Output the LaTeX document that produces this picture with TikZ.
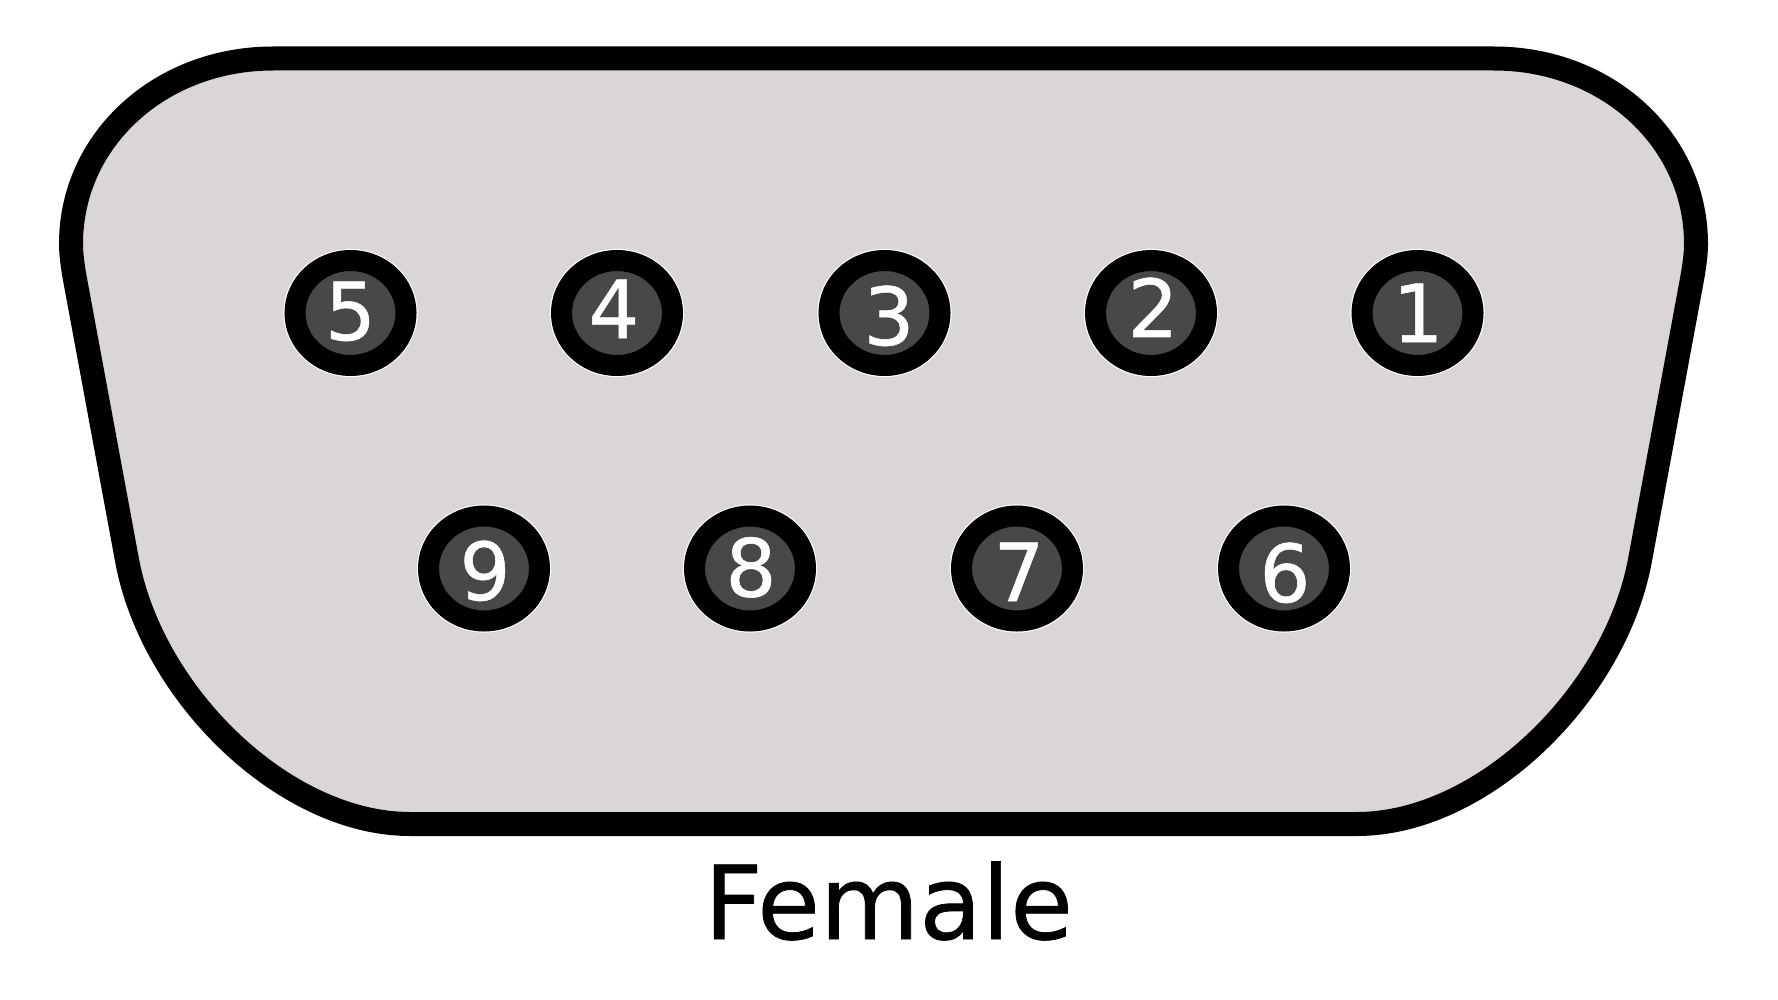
\documentclass[tikz,border=0pt]{standalone}
\usepackage{fontspec}
\setmainfont{DejaVu Sans}
\newfontfamily\pinface{DejaVu Sans}[FakeBold=0.7]
\usetikzlibrary{shapes.geometric}
\definecolor{shellfill}{HTML}{DBD6D6}
\definecolor{holefill}{HTML}{484848}
\tikzset{
  shell/.style={draw=black,fill=shellfill,line width=24pt,line join=round},
  hole/.style={ellipse,draw=black,fill=holefill,line width=21pt,minimum width=111pt,minimum height=105pt,inner sep=0pt,outer sep=0pt},
  halo/.style={ellipse,draw=white,line width=1.2pt,minimum width=133pt,minimum height=127pt,inner sep=0pt,outer sep=0pt},
  pinnum/.style={text=white,font=\pinface\fontsize{80pt}{80pt}\selectfont,anchor=base,inner sep=0pt},
  caption/.style={text=black,font=\pinface\fontsize{102pt}{102pt}\selectfont,anchor=base,inner sep=0pt}
}
\begin{document}
\begin{tikzpicture}[x=1pt,y=-1pt]
\useasboundingbox (0,0) rectangle (1778,1000);
\fill[white] (0,0) rectangle (1778,1000);
\draw[shell]
  (273,58.5) -- (1494,58.5)
  .. controls (1607,58.5) and (1696,140) .. (1696,244)
  .. controls (1696,258) and (1693,274) .. (1690,290)
  -- (1640,560)
  .. controls (1615,695) and (1482,824) .. (1357,824)
  -- (410,824)
  .. controls (285,824) and (152,695) .. (127,560)
  -- (77,290)
  .. controls (74,274) and (71,258) .. (71,244)
  .. controls (71,140) and (160,58.5) .. (273,58.5)
  -- cycle;
\foreach \nm/\cx/\cy in {h5/350.5/313,h4/617/313,h3/884.5/313,h2/1151/313,h1/1417.5/313,h9/484/568.5,h8/750/568.5,h7/1017/568.5,h6/1284/568.5}{
  \node[halo] (\nm o) at (\cx,\cy) {};
  \node[hole] (\nm) at (\cx,\cy) {};
}
\node[pinnum] (n5) at (350.5,340) {5};
\node[pinnum] (n4) at (614,338) {4};
\node[pinnum] (n3) at (889,345) {3};
\node[pinnum] (n2) at (1153,337) {2};
\node[pinnum] (n1) at (1418,342) {1};
\node[pinnum] (n9) at (485,600) {9};
\node[pinnum] (n8) at (751,596.5) {8};
\node[pinnum] (n7) at (1019,601) {7};
\node[pinnum] (n6) at (1285,602) {6};
\node[caption] (cap) at (888.5,939) {Female};
\end{tikzpicture}
\end{document}
